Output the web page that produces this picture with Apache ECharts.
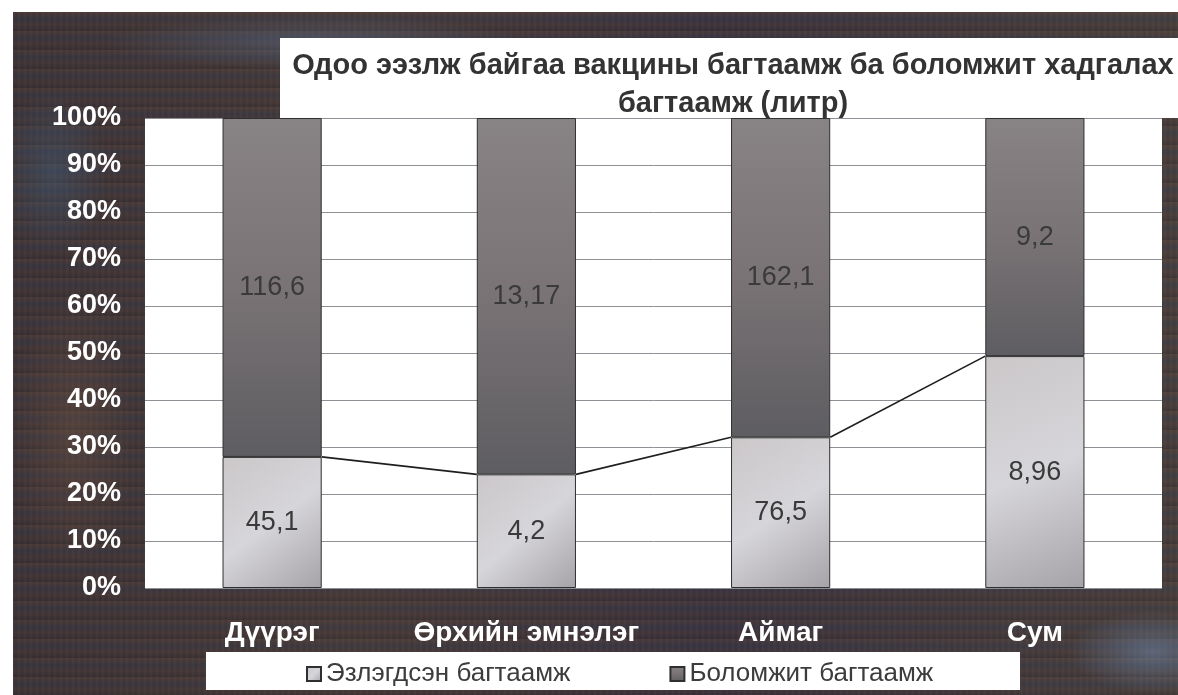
<!DOCTYPE html>
<html>
<head>
<meta charset="utf-8">
<script src="https://cdn.jsdelivr.net/npm/echarts@6/dist/echarts.min.js"></script>
<style>
  html, body { margin: 0; padding: 0; background: #ffffff; }
  #wrap { position: relative; width: 1178px; height: 695px; overflow: hidden; background: #ffffff; }
  #bg {
    position: absolute; left: 13px; top: 12px; right: 0; bottom: 0;
    background:
      radial-gradient(ellipse 120px 60px at 1140px 640px, rgba(120,150,190,0.45), rgba(0,0,0,0) 70%),
      radial-gradient(ellipse 90px 200px at 60px 420px, rgba(120,90,70,0.35), rgba(0,0,0,0) 70%),
      radial-gradient(ellipse 300px 40px at 300px 30px, rgba(90,110,140,0.45), rgba(0,0,0,0) 70%),
      radial-gradient(ellipse 80px 120px at 40px 160px, rgba(70,100,130,0.4), rgba(0,0,0,0) 70%),
      repeating-linear-gradient(180deg, rgba(140,90,60,0.18) 0px, rgba(40,60,100,0.18) 7px, rgba(110,70,60,0.15) 13px, rgba(30,30,40,0.2) 19px),
      repeating-linear-gradient(90deg, rgba(255,255,255,0.03) 0px, rgba(0,0,0,0.05) 3px, rgba(255,255,255,0.03) 6px),
      linear-gradient(90deg, #3a3134 0%, #433836 30%, #39313a 60%, #453d3a 100%);
  }
  #chart { position: absolute; left: 0; top: 0; width: 1178px; height: 695px; }
</style>
</head>
<body>
<div id="wrap">
  <div id="bg"></div>
  <div id="chart"></div>
</div>
<script>
// ---- data ----
var categories = ['Дүүрэг', 'Өрхийн эмнэлэг', 'Аймаг', 'Сум'];
var seriesNames = ['Эзлэгдсэн багтаамж', 'Боломжит багтаамж'];
var occupied = [45.1, 4.2, 76.5, 8.96];
var available = [116.6, 13.17, 162.1, 9.2];
var yTicks = [0, 10, 20, 30, 40, 50, 60, 70, 80, 90, 100];
var titleLines = ['Одоо ээзлж байгаа вакцины багтаамж ба боломжит хадгалах', 'багтаамж (литр)'];

// 100% stacked shares derived from the values
var totals = occupied.map(function (v, i) { return v + available[i]; });
var occPct = occupied.map(function (v, i) { return v / totals[i] * 100; });
var avaPct = available.map(function (v, i) { return v / totals[i] * 100; });

function fmt(v) { return String(v).replace('.', ','); }

var BAR_W = 0.39;
var FONT = 'Liberation Sans, Arial, sans-serif';

var chart = echarts.init(document.getElementById('chart'), null, { renderer: 'canvas' });

var labelStyle = {
  show: true, position: 'inside', color: '#3a3a3a',
  fontFamily: FONT, fontSize: 27
};

var option = {
  backgroundColor: 'transparent',
  animation: false,
  textStyle: { fontFamily: FONT },
  graphic: [
    { type: 'rect', left: 280, top: 38, shape: { width: 898, height: 80 }, style: { fill: '#ffffff' }, z: 0 },
    { type: 'rect', left: 206, top: 652, shape: { width: 814, height: 38 }, style: { fill: '#ffffff' }, z: 0 }
  ],
  title: {
    text: titleLines.join('\n'),
    left: 728, top: 42, textAlign: 'center',
    textStyle: {
      color: '#333333', fontSize: 29, fontWeight: 'bold',
      fontFamily: FONT, lineHeight: 38
    }
  },
  legend: {
    data: seriesNames,
    left: 306, top: 661, padding: 0,
    itemWidth: 14, itemHeight: 14, itemGap: 99,
    icon: 'rect',
    textStyle: { color: '#3c3c3c', fontSize: 26, fontFamily: FONT }
  },
  grid: {
    left: 145, top: 118, width: 1017, height: 470,
    show: true, backgroundColor: '#ffffff', borderWidth: 0
  },
  xAxis: {
    type: 'category', data: categories,
    axisLine: { show: false }, axisTick: { show: false },
    axisLabel: {
      interval: 0, hideOverlap: false,
      color: '#ffffff', fontWeight: 'bold', fontSize: 28, margin: 31,
      fontFamily: FONT
    }
  },
  yAxis: {
    type: 'value', min: 0, max: 100, interval: 10,
    axisLine: { show: false }, axisTick: { show: false },
    axisLabel: {
      formatter: '{value}%', color: '#ffffff', fontWeight: 'bold', fontSize: 27, margin: 24,
      fontFamily: FONT
    },
    splitLine: { show: true, lineStyle: { color: '#8f8f96', width: 1 } }
  },
  series: [
    {
      name: seriesNames[0], type: 'bar', stack: 'total', barWidth: (BAR_W * 100) + '%',
      data: occPct,
      itemStyle: {
        color: new echarts.graphic.LinearGradient(0, 0, 1, 1, [
          { offset: 0, color: '#cbc7c9' }, { offset: 0.5, color: '#d6d5d9' }, { offset: 1, color: '#a6a3a8' }
        ]),
        borderColor: '#2f2f2f', borderWidth: 1
      },
      label: Object.assign({}, labelStyle, { formatter: function (p) { return fmt(occupied[p.dataIndex]); } }),
      z: 2
    },
    {
      name: seriesNames[1], type: 'bar', stack: 'total', barWidth: (BAR_W * 100) + '%',
      data: avaPct,
      itemStyle: {
        color: new echarts.graphic.LinearGradient(0, 0, 0, 1, [
          { offset: 0, color: '#888385' }, { offset: 0.5, color: '#797375' }, { offset: 1, color: '#5e5d61' }
        ]),
        borderColor: '#2f2f2f', borderWidth: 1
      },
      label: Object.assign({}, labelStyle, { formatter: function (p) { return fmt(available[p.dataIndex]); } }),
      z: 2
    },
    {
      name: 'series-lines', type: 'custom', silent: true, z: 5,
      data: occPct.slice(0, occPct.length - 1).map(function (v, i) { return [i, v, occPct[i + 1]]; }),
      renderItem: function (params, api) {
        var i = api.value(0);
        var p1 = api.coord([i, api.value(1)]);
        var p2 = api.coord([i + 1, api.value(2)]);
        var half = api.size([1, 0])[0] * BAR_W / 2;
        return {
          type: 'line',
          shape: { x1: p1[0] + half, y1: p1[1], x2: p2[0] - half, y2: p2[1] },
          style: { stroke: '#1e1e1e', lineWidth: 1.6 }
        };
      }
    }
  ]
};

chart.setOption(option);
</script>
</body>
</html>
